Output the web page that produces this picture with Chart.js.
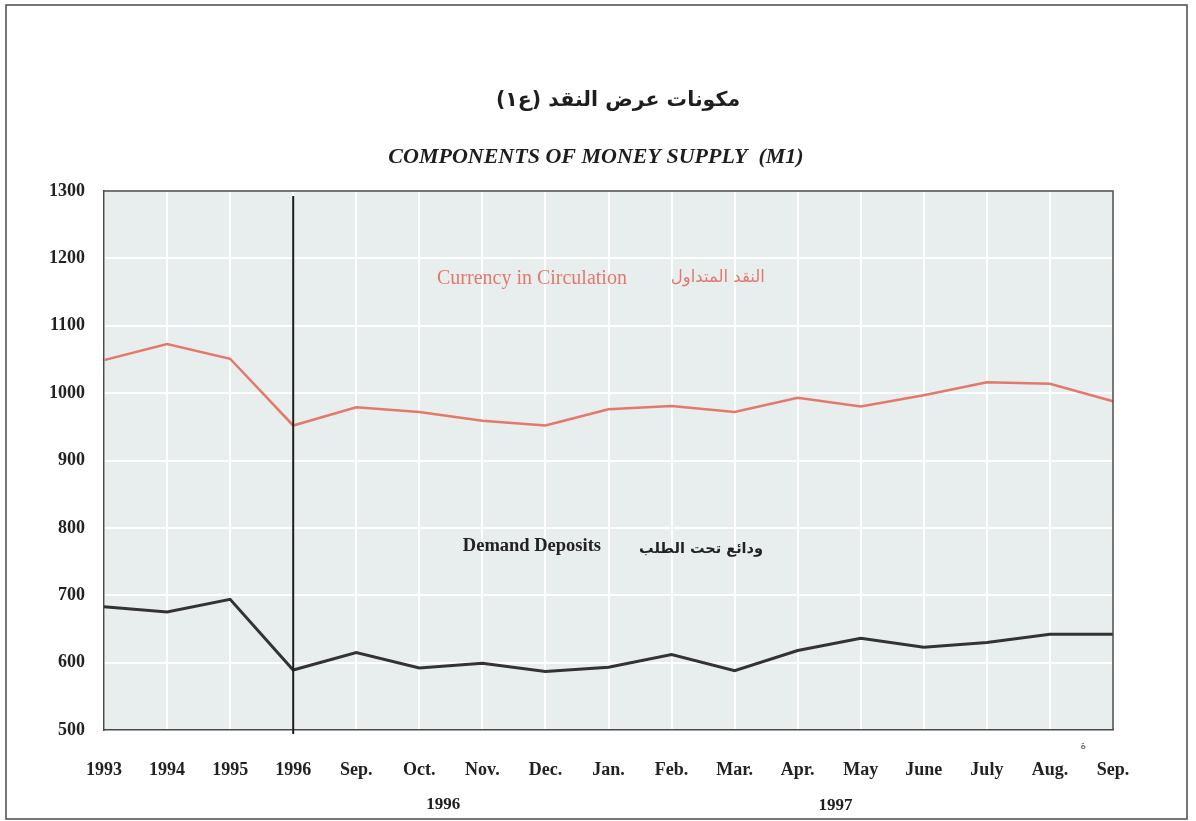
<!DOCTYPE html>
<html>
<head>
<meta charset="utf-8">
<script src="https://cdn.jsdelivr.net/npm/chart.js@4.4.1/dist/chart.umd.min.js"></script>
<style>
  html, body { margin: 0; padding: 0; background: #ffffff; }
  #wrap { width: 1196px; height: 821px; position: relative; }
</style>
</head>
<body>
<div id="wrap"><canvas id="c" width="1196" height="821"></canvas></div>
<script>
// ---- Data ----
const categories = ['1993','1994','1995','1996','Sep.','Oct.','Nov.','Dec.','Jan.','Feb.','Mar.','Apr.','May','June','July','Aug.','Sep.'];
const currencyInCirculation = [1049,1073,1051,952,979,972,959,952,976,981,972,993,980,997,1016,1014,988];
const demandDeposits = [683,675,694,589,615,592,599,587,593,612,588,618,636,623,630,642,642];
const yTicks = [500,600,700,800,900,1000,1100,1200,1300];
const yearLabels = ['1996','1997'];

const titleAr = 'مكونات عرض النقد (ع١)';
const titleEn = 'COMPONENTS OF MONEY SUPPLY  (M1)';
const currencyEn = 'Currency in Circulation';
const currencyAr = 'النقد المتداول';
const depositsEn = 'Demand Deposits';
const depositsAr = 'ودائع تحت الطلب';

const SERIF = '"Liberation Serif", "Times New Roman", serif';
const ARAB = '"DejaVu Sans", sans-serif';

const decorPlugin = {
  id: 'decor',
  beforeDraw(chart) {
    const ctx = chart.ctx, a = chart.chartArea;
    ctx.save();
    ctx.fillStyle = '#ffffff';
    ctx.fillRect(0, 0, chart.width, chart.height);
    ctx.fillStyle = '#e8eded';
    ctx.fillRect(a.left, a.top, a.right - a.left, a.bottom - a.top);
    ctx.restore();
  },
  afterDatasetsDraw(chart) {
    const ctx = chart.ctx, a = chart.chartArea;
    const xs = chart.scales.x, ys = chart.scales.y;
    ctx.save();
    // vertical divider at 1996
    const xd = xs.getPixelForValue(3);
    ctx.strokeStyle = '#1e1e1e';
    ctx.lineWidth = 2;
    ctx.beginPath();
    ctx.moveTo(xd, a.top + 5);
    ctx.lineTo(xd, a.bottom + 4);
    ctx.stroke();

    // in-plot labels
    ctx.textBaseline = 'middle';
    ctx.direction = 'ltr';
    ctx.textAlign = 'left';
    ctx.fillStyle = '#e07a6e';
    ctx.font = '20px ' + SERIF;
    ctx.fillText(currencyEn, xs.getPixelForValue(5.28), ys.getPixelForValue(1170));
    ctx.font = '16.5px ' + ARAB;
    ctx.direction = 'rtl';
    ctx.textAlign = 'right';
    ctx.fillText(currencyAr, xs.getPixelForValue(10.48), ys.getPixelForValue(1171));

    ctx.fillStyle = '#222222';
    ctx.direction = 'ltr';
    ctx.textAlign = 'left';
    ctx.font = 'bold 18.5px ' + SERIF;
    ctx.fillText(depositsEn, xs.getPixelForValue(5.69), ys.getPixelForValue(773));
    ctx.font = 'bold 14.5px ' + ARAB;
    ctx.direction = 'rtl';
    ctx.textAlign = 'right';
    ctx.fillText(depositsAr, xs.getPixelForValue(10.45), ys.getPixelForValue(768));
    ctx.restore();
  },
  afterDraw(chart) {
    const ctx = chart.ctx;
    const xs = chart.scales.x;
    ctx.save();
    // outer frame
    ctx.strokeStyle = '#4a4a4a';
    ctx.lineWidth = 1.5;
    ctx.strokeRect(6, 5, 1181, 814);

    // titles
    ctx.fillStyle = '#1e1e1e';
    ctx.textBaseline = 'middle';
    ctx.textAlign = 'center';
    ctx.direction = 'rtl';
    ctx.font = 'bold 20.5px ' + ARAB;
    ctx.fillText(titleAr, 618, 101);
    ctx.direction = 'ltr';
    ctx.font = 'italic bold 22px ' + SERIF;
    ctx.fillText(titleEn, 596, 157);

    // year group labels
    ctx.font = 'bold 17px ' + SERIF;
    ctx.fillText(yearLabels[0], xs.getPixelForValue(5.38), 805);
    ctx.fillText(yearLabels[1], xs.getPixelForValue(11.6), 806);

    // small footnote mark
    ctx.font = '11px ' + ARAB;
    ctx.fillStyle = '#555555';
    ctx.fillText('ة', xs.getPixelForValue(15.53), 746);
    ctx.restore();
  }
};

new Chart(document.getElementById('c'), {
  type: 'line',
  data: {
    labels: categories,
    datasets: [
      {
        label: currencyEn,
        data: currencyInCirculation,
        borderColor: '#e3786b',
        borderWidth: 2.5,
        pointRadius: 0,
        tension: 0,
        fill: false
      },
      {
        label: depositsEn,
        data: demandDeposits,
        borderColor: '#333333',
        borderWidth: 3,
        pointRadius: 0,
        tension: 0,
        fill: false
      }
    ]
  },
  options: {
    responsive: false,
    animation: false,
    devicePixelRatio: 1,
    layout: { padding: { left: 0, right: 83, top: 191, bottom: 0 } },
    plugins: {
      legend: { display: false },
      tooltip: { enabled: false },
      title: { display: false }
    },
    scales: {
      x: {
        type: 'category',
        offset: false,
        afterFit(scale) { scale.height = 91; },
        grid: { color: '#ffffff', lineWidth: 2, drawTicks: false },
        border: { display: true, color: '#4a4a4a', width: 1.5 },
        ticks: {
          autoSkip: false,
          maxRotation: 0,
          padding: 30,
          color: '#222222',
          font: { family: SERIF, size: 18, weight: 'bold' }
        }
      },
      y: {
        min: 500,
        max: 1300,
        afterFit(scale) { scale.width = 104; },
        afterBuildTicks(scale) { scale.ticks = yTicks.map(v => ({ value: v })); },
        grid: { color: '#ffffff', lineWidth: 2, drawTicks: false },
        border: { display: true, color: '#4a4a4a', width: 1.5 },
        ticks: {
          padding: 19,
          color: '#222222',
          callback: (v) => String(v),
          font: { family: SERIF, size: 18, weight: 'bold' }
        }
      }
    }
  },
  plugins: [decorPlugin, {
    id: 'frameTopRight',
    afterDatasetsDraw(chart) {
      const ctx = chart.ctx, a = chart.chartArea;
      ctx.save();
      ctx.strokeStyle = '#4a4a4a';
      ctx.lineWidth = 1.5;
      ctx.beginPath();
      ctx.moveTo(a.left, a.top);
      ctx.lineTo(a.right, a.top);
      ctx.lineTo(a.right, a.bottom);
      ctx.stroke();
      ctx.restore();
    }
  }]
});
</script>
</body>
</html>
